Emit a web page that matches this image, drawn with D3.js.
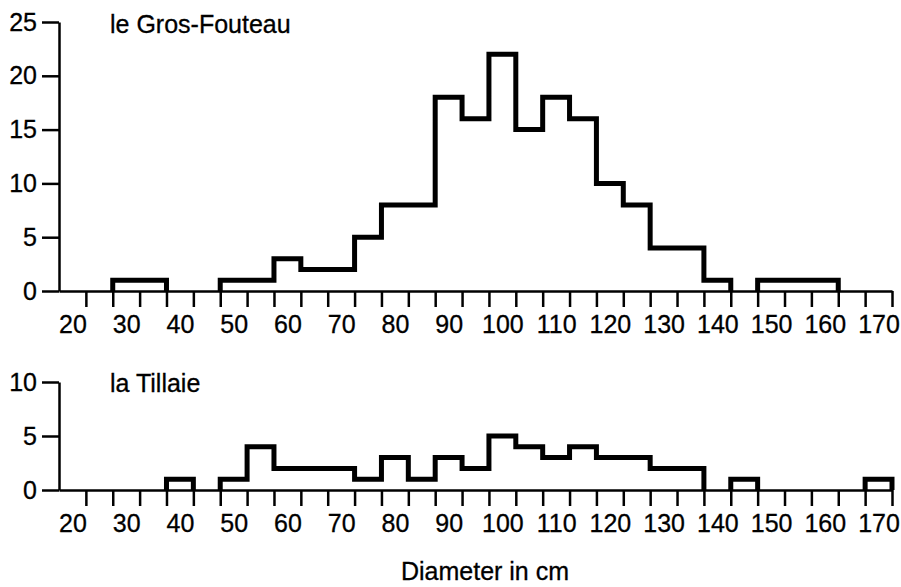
<!DOCTYPE html>
<html>
<head>
<meta charset="utf-8">
<script src="https://cdn.jsdelivr.net/npm/d3@7"></script>
<style>
  body { margin: 0; background: white; }
  text { font-family: "Liberation Sans", Arial, Helvetica, sans-serif; fill: black; }
</style>
</head>
<body>
<div id="chart-div"></div>
<script>
// diameter classes (cm), 5 cm wide, labelled by their centre
const diameters = [20, 25, 30, 35, 40, 45, 50, 55, 60, 65, 70, 75, 80, 85, 90, 95,
  100, 105, 110, 115, 120, 125, 130, 135, 140, 145, 150, 155, 160, 165, 170];
const grosFouteau = [0, 0, 1, 1, 0, 0, 1, 1, 3, 2, 2, 5, 8, 8, 18, 16,
  22, 15, 18, 16, 10, 8, 4, 4, 1, 0, 1, 1, 1, 0, 0];
const tillaie = [0, 0, 0, 0, 1, 0, 1, 4, 2, 2, 2, 1, 3, 1, 3, 2,
  5, 4, 3, 4, 3, 3, 2, 2, 0, 1, 0, 0, 0, 0, 1];
const xLabels = [20, 30, 40, 50, 60, 70, 80, 90, 100, 110, 120, 130, 140, 150, 160, 170];
const topTicks = [0, 5, 10, 15, 20, 25];
const bottomTicks = [0, 5, 10];

const width = 901, height = 587;
const binW = 5;

const svg = d3.select("#chart-div")
  .append("svg")
  .attr("width", width)
  .attr("height", height)
  .attr("style", "background-color: white");

const x = d3.scaleLinear()
  .domain([diameters[0] - binW / 2, diameters[diameters.length - 1] + binW / 2])
  .range([59, 892]);

// bin edges get tick marks, labels sit in the middle of the classes
const edges = diameters.map(d => d + binW / 2);

function drawPanel(values, yMax, yTicks, y0, y1, title, titleY) {
  const y = d3.scaleLinear().domain([0, yMax]).range([y0, y1]);
  const g = svg.append("g");

  // x axis: tick marks
  g.append("g")
    .attr("transform", `translate(0, ${y0})`)
    .call(d3.axisBottom(x).tickValues(edges).tickSize(16).tickSizeOuter(0).tickFormat(""))
    .call(a => a.selectAll("path, line").attr("stroke", "black").attr("stroke-width", 2.5));

  // x axis: labels
  g.append("g")
    .attr("transform", `translate(0, ${y0})`)
    .call(d3.axisBottom(x).tickValues(xLabels).tickSize(0).tickPadding(24))
    .call(a => a.select(".domain").remove())
    .call(a => a.selectAll("text").attr("font-size", 25).attr("font-family", null)
      .attr("stroke", "black").attr("stroke-width", 0.3));

  // y axis
  g.append("g")
    .attr("transform", `translate(${x.range()[0]}, 0)`)
    .call(d3.axisLeft(y).tickValues(yTicks).tickSize(17).tickSizeOuter(0).tickPadding(5))
    .call(a => a.selectAll("path, line").attr("stroke", "black").attr("stroke-width", 2.5))
    .call(a => a.selectAll("text").attr("font-size", 25).attr("font-family", null)
      .attr("stroke", "black").attr("stroke-width", 0.3));

  // histogram outline, one path per run of non-empty classes
  const runs = [];
  let cur = null;
  diameters.forEach((d, i) => {
    if (values[i] > 0) {
      if (!cur) { cur = [[d - binW / 2, 0]]; runs.push(cur); }
      cur.push([d - binW / 2, values[i]], [d + binW / 2, values[i]]);
    } else if (cur) {
      cur.push([cur[cur.length - 1][0], 0]);
      cur = null;
    }
  });
  if (cur) cur.push([cur[cur.length - 1][0], 0]);

  const line = d3.line().x(p => x(p[0])).y(p => y(p[1]));
  g.selectAll("path.hist")
    .data(runs)
    .join("path")
    .attr("class", "hist")
    .attr("d", line)
    .attr("fill", "none")
    .attr("stroke", "black")
    .attr("stroke-width", 5)
    .attr("stroke-linejoin", "miter");

  g.append("text")
    .attr("x", 110)
    .attr("y", titleY)
    .attr("font-size", 25)
    .attr("stroke", "black")
    .attr("stroke-width", 0.3)
    .text(title);
}

drawPanel(grosFouteau, 25, topTicks, 291, 22, "le Gros-Fouteau", 33);
drawPanel(tillaie, 10, bottomTicks, 490, 382, "la Tillaie", 392);

svg.append("text")
  .attr("x", 485)
  .attr("y", 580)
  .attr("text-anchor", "middle")
  .attr("font-size", 25)
  .attr("stroke", "black")
  .attr("stroke-width", 0.3)
  .text("Diameter in cm");
</script>
</body>
</html>
